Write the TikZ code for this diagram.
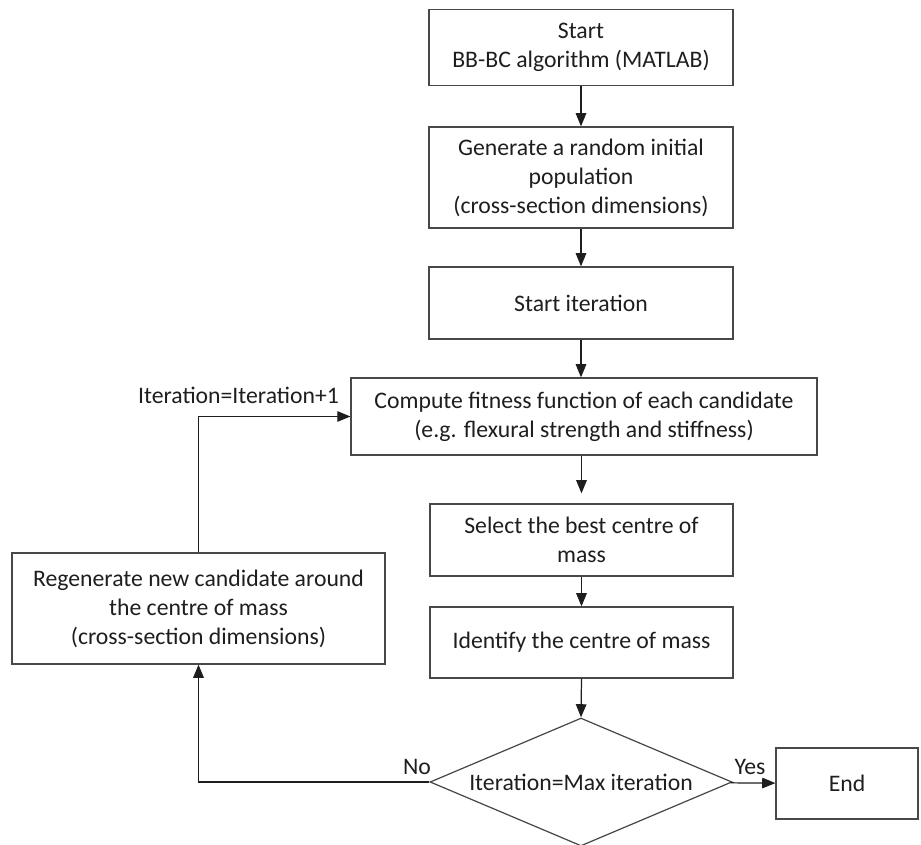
\documentclass[tikz,border=0pt]{standalone}
\usepackage{fontspec}
\setmainfont{Carlito}
\usetikzlibrary{shapes}
\usetikzlibrary{shapes.geometric}
\usetikzlibrary{arrows.meta}
\definecolor{boxline}{RGB}{72,72,72}
\definecolor{inkgray}{RGB}{30,30,30}
\tikzset{
    stepbox/.style = {rectangle, draw=boxline, line width=0.7pt, align=center, text=inkgray, inner sep=2pt},
    decide/.style = {diamond, draw=boxline, line width=0.7pt, align=center, text=inkgray, inner sep=0pt, aspect=2.36},
    lbl/.style = {text=inkgray, inner sep=1pt},
    edgen/.style = {-{Triangle[length=7.5pt,width=6pt]}, line width=0.7pt, draw=inkgray}, % flow
    every picture/.style={font issue=\fontsize{13.5}{16.5}},
    font issue/.style={execute at begin picture={#1\selectfont}
  }
}

\begin{document}
\begin{tikzpicture}[x=0.02cm,y=-0.02cm]
\useasboundingbox (0,0) rectangle (921,845);
\node[stepbox, minimum width=6.08cm, minimum height=1.52cm] at (581, 47.5) (start) {Start\\BB-BC algorithm (MATLAB)};
\node[stepbox, minimum width=6.08cm, minimum height=2.02cm] at (581, 177.5) (gen) {Generate a random initial\\population\\(cross-section dimensions)};
\node[stepbox, minimum width=6.08cm, minimum height=1.44cm] at (581, 303) (iter) {Start iteration};
\node[stepbox, minimum width=9.32cm, minimum height=1.54cm] at (584, 416.5) (fit) {Compute fitness function of each candidate\\(e.g. flexural strength and stiffness)};
\node[stepbox, minimum width=6.06cm, minimum height=1.44cm] at (581.5, 540) (sel) {Select the best centre of\\mass};
\node[stepbox, minimum width=6.06cm, minimum height=1.42cm] at (581.5, 642.5) (cm) {Identify the centre of mass};
\node[decide, minimum width=6.04cm, minimum height=2.56cm] at (581, 782) (check) {Iteration=Max iteration};
\node[stepbox, minimum width=2.84cm, minimum height=1.42cm] at (847, 783.5) (end) {End};
\node[stepbox, minimum width=7.46cm, minimum height=2.22cm] at (198.5, 608.5) (regen) {Regenerate new candidate around\\the centre of mass\\(cross-section dimensions)};
%
\node[lbl, anchor=east] at (341, 395) (inc) {Iteration=Iteration+1};
\node[lbl] at (417, 767) (no) {No};
\node[lbl] at (750, 767) (yes) {Yes};
%
\draw[edgen] (start) -- (gen);
\draw[edgen] (gen) -- (iter);
\draw[edgen] (iter.south) -- (iter.south |- fit.north);
\draw[edgen, shorten >=5.7pt] (fit.south -| sel.north) -- (sel.north);
\draw[edgen] (sel) -- (cm);
\draw[edgen] (cm.south) -- (check.north);
\draw[edgen] (check) -- (end);
\draw[edgen] (check.west) -| (regen.south);
\draw[edgen] (regen.north) |- (fit.west);
\end{tikzpicture}
\end{document}
